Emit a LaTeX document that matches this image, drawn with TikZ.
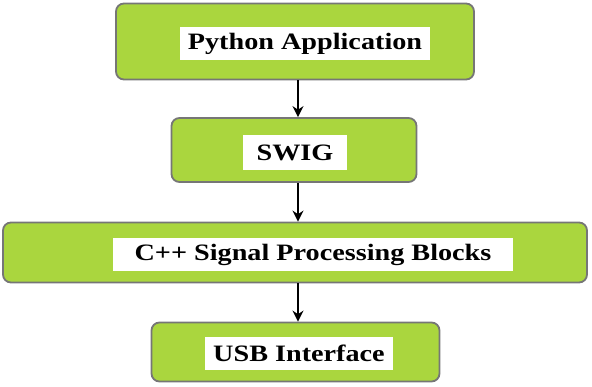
\documentclass[tikz,border=0pt]{standalone}
\usepackage{fontspec}
\setmainfont{Liberation Serif}
\newfontfamily\tagfont{Liberation Serif}[FakeStretch=1.2]
\usetikzlibrary{arrows.meta}
\definecolor{stagegreen}{RGB}{170,214,62}
\definecolor{rimgray}{RGB}{118,118,118}

\tikzset{
  stage/.style={draw=rimgray,line width=1.8pt,fill=stagegreen,rounded corners=8pt,inner sep=0pt},
  tag/.style={fill=white,inner sep=0pt,font=\tagfont\bfseries\fontsize{23.5}{25}\selectfont},
  flow/.style={-{Stealth[length=11pt,width=11pt]},line width=1.5pt}
}

\begin{document}
\begin{tikzpicture}[x=1pt,y=1pt]
\useasboundingbox (0,0) rectangle (592,-387);
% the four stages, top to bottom
\node[stage,minimum width=358pt,minimum height=76pt] (app) at (295,-41.5) {};
\node[stage,minimum width=245pt,minimum height=64pt] (swig) at (294,-150) {};
\node[stage,minimum width=584pt,minimum height=60pt] (dsp) at (295,-252.5) {};
\node[stage,minimum width=288pt,minimum height=59pt] (usb) at (295.5,-352) {};
% white labels on top
\node[tag,minimum width=250pt,minimum height=33pt] (appL) at (305,-43.5) {Python Application};
\node[tag,minimum width=104pt,minimum height=35pt] (swigL) at (295,-152.5) {SWIG};
\node[tag,minimum width=400pt,minimum height=33pt] (dspL) at (313,-254.5) {C++ Signal Processing Blocks};
\node[tag,minimum width=188pt,minimum height=33pt] (usbL) at (299,-353.5) {USB Interface};
% arrows
\draw[flow] ([xshift=3pt]app.south) -- ([xshift=3pt]app.south |- swig.north);
\draw[flow] ([xshift=4pt]swig.south) -- ([xshift=4pt]swig.south |- dsp.north);
\draw[flow] ([xshift=3pt]dsp.south) -- ([xshift=3pt]dsp.south |- usb.north);
\end{tikzpicture}
\end{document}
